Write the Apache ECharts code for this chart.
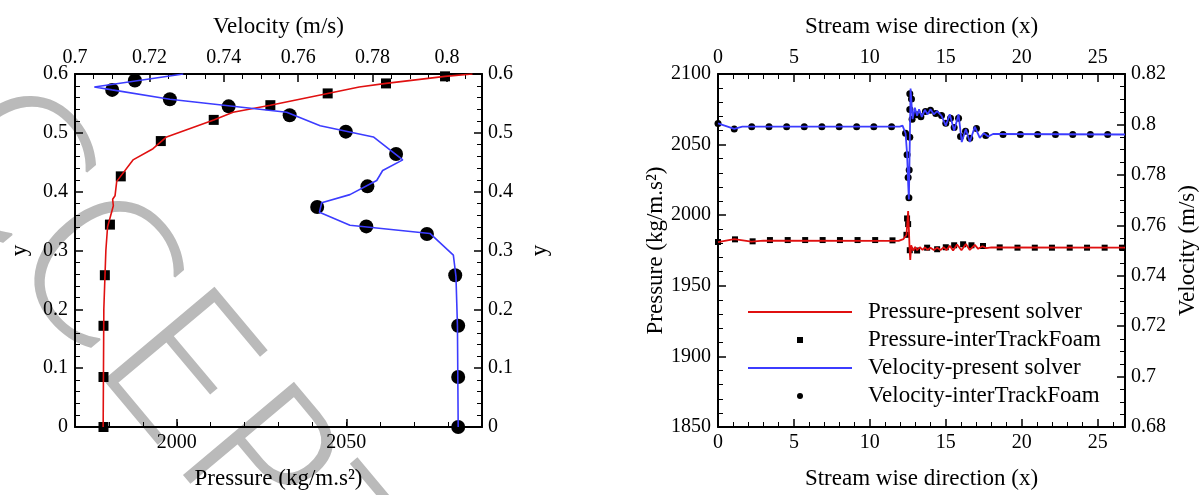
<!DOCTYPE html>
<html>
<head>
<meta charset="utf-8">
<script src="https://cdn.jsdelivr.net/npm/echarts@6/dist/echarts.min.js"></script>
<style>
  html, body { margin: 0; padding: 0; background: #fff; }
  #chart { width: 1201px; height: 495px; }
</style>
</head>
<body>
<div id="chart"></div>
<script>
  // ---- left panel: vertical profiles (y against pressure / velocity) ----
  const profPresY = [0, 0.1, 0.2, 0.3, 0.34, 0.376, 0.387, 0.393, 0.4175, 0.454, 0.473, 0.493, 0.522, 0.535, 0.547, 0.567, 0.578, 0.584, 0.596, 0.6]
  const profPres = [1978.3, 1978.4, 1978.5, 1979.1, 1979.6, 1981.3, 1981.1, 1981.8, 1982.3, 1987.1, 1993.0, 1997.0, 2010.9, 2016.6, 2027.6, 2044.5, 2053.8, 2061.7, 2079.1, 2087.2]
  const profPresRefY = [0, 0.085, 0.172, 0.258, 0.344, 0.426, 0.486, 0.522, 0.547, 0.567, 0.584, 0.596]
  const profPresRef = [1978.4, 1978.4, 1978.4, 1978.8, 1980.3, 1983.5, 1995.3, 2010.9, 2027.6, 2044.5, 2061.7, 2079.1]
  const profVelY = [0, 0.172, 0.256, 0.292, 0.329, 0.343, 0.365, 0.381, 0.395, 0.419, 0.436, 0.454, 0.493, 0.512, 0.535, 0.557, 0.573, 0.578, 0.6]
  const profVel = [0.8030, 0.8028, 0.8024, 0.8017, 0.7954, 0.7739, 0.7657, 0.7663, 0.7739, 0.7811, 0.7827, 0.7881, 0.7802, 0.7659, 0.7569, 0.7255, 0.7100, 0.7052, 0.7291]
  const profVelRefY = [0, 0.085, 0.172, 0.258, 0.328, 0.341, 0.374, 0.409, 0.464, 0.502, 0.530, 0.545, 0.557, 0.573, 0.589]
  const profVelRef = [0.8030, 0.8030, 0.8030, 0.8022, 0.7946, 0.7783, 0.7651, 0.7786, 0.7863, 0.7728, 0.7577, 0.7413, 0.7255, 0.7100, 0.7161]

  // ---- right panel: along the stream wise direction ----
  const presLineX = [0, 1.07, 2.2, 3.0, 11.9, 12.2, 12.41, 12.47, 12.52, 12.57, 12.62, 12.66, 12.72, 12.85, 12.98, 13.11, 13.29, 13.47, 13.62, 13.8, 13.99, 14.21, 14.43, 14.65, 14.87, 15.04, 15.26, 15.48, 15.74, 16.03, 16.32, 16.58, 16.91, 17.13, 17.41, 17.67, 18.0, 26.8]
  const presLine = [1981.0, 1983.0, 1981.3, 1982.0, 1981.8, 1983.0, 1986.0, 1995.0, 2003.0, 1990.0, 1975.0, 1968.3, 1978.7, 1975.0, 1977.5, 1975.2, 1977.3, 1975.4, 1977.2, 1975.5, 1977.0, 1975.4, 1977.0, 1975.3, 1977.3, 1975.3, 1978.3, 1975.0, 1979.3, 1975.2, 1979.6, 1975.4, 1979.0, 1976.2, 1978.0, 1976.7, 1977.2, 1977.0]
  const presRefX = [0, 1.12, 2.28, 3.42, 4.59, 5.74, 6.89, 8.03, 9.19, 10.35, 11.49, 12.41, 12.45, 12.52, 12.63, 13.11, 13.77, 14.43, 15.0, 15.55, 16.14, 16.69, 17.45, 18.55, 19.72, 20.86, 21.99, 23.16, 24.3, 25.46, 26.6]
  const presRef = [1981.0, 1982.9, 1981.5, 1982.4, 1982.4, 1982.4, 1982.4, 1982.4, 1982.4, 1982.4, 1982.2, 1986.1, 1997.7, 1993.7, 1975.2, 1975.0, 1977.0, 1975.9, 1977.3, 1978.7, 1979.4, 1978.7, 1978.2, 1977.2, 1977.0, 1977.0, 1977.0, 1977.0, 1977.0, 1977.0, 1977.0]
  const velLineX = [0, 1.07, 1.6, 11.97, 12.15, 12.35, 12.45, 12.52, 12.57, 12.63, 12.68, 12.81, 12.96, 13.11, 13.24, 13.42, 13.62, 13.8, 13.99, 14.21, 14.43, 14.72, 15.0, 15.26, 15.55, 15.84, 16.05, 16.32, 16.58, 16.91, 17.24, 17.5, 17.79, 18.11, 26.8]
  const velLine = [0.8004, 0.7982, 0.7991, 0.7991, 0.7995, 0.7965, 0.7884, 0.7767, 0.7702, 0.7936, 0.8142, 0.8021, 0.8066, 0.8034, 0.8060, 0.8030, 0.8058, 0.8040, 0.8060, 0.8040, 0.8053, 0.8034, 0.7995, 0.8040, 0.7975, 0.8040, 0.7930, 0.7982, 0.7930, 0.7991, 0.7947, 0.7965, 0.7952, 0.7962, 0.7960]
  const velRefX = [0, 1.07, 2.22, 3.36, 4.52, 5.68, 6.84, 7.98, 9.13, 10.26, 11.43, 12.35, 12.63, 12.45, 12.59, 12.52, 12.57, 12.63, 12.74, 12.63, 12.78, 13.07, 13.36, 13.66, 13.99, 14.34, 14.72, 15.0, 15.31, 15.55, 15.84, 15.97, 16.3, 16.58, 17.02, 17.63, 18.77, 19.91, 21.05, 22.22, 23.36, 24.52, 25.66]
  const velRef = [0.8004, 0.7982, 0.7991, 0.7991, 0.7991, 0.7991, 0.7991, 0.7991, 0.7991, 0.7991, 0.7991, 0.7965, 0.7949, 0.7880, 0.7819, 0.7790, 0.7709, 0.8122, 0.8101, 0.8059, 0.8021, 0.8038, 0.8030, 0.8051, 0.8056, 0.8043, 0.8035, 0.8005, 0.8025, 0.7988, 0.8025, 0.7952, 0.7973, 0.7945, 0.7984, 0.7956, 0.7960, 0.7960, 0.7960, 0.7960, 0.7960, 0.7960, 0.7960]

  const legendNames = ['Pressure-present solver', 'Pressure-interTrackFoam', 'Velocity-present solver', 'Velocity-interTrackFoam']
  const pressureMajor = [2000, 2050]

  const RED = '#e01010'
  const BLUE = '#3c3cff'
  const FONT = '"Liberation Serif", "Times New Roman", serif'

  function pairs (a, b) {
    return a.map(function (v, i) { return [v, b[i]] })
  }
  function plain (v) { return String(v) }

  // Tecplot-like frame axis: ticks point inside, black frame
  function frameAxis (extra) {
    var base = {
      type: 'value',
      axisLine: { show: true, onZero: false, lineStyle: { color: '#000', width: 2 } },
      axisTick: { show: true, inside: true, length: 8, lineStyle: { color: '#000', width: 1.5 } },
      minorTick: { show: true, length: 5, lineStyle: { color: '#000', width: 1 } },
      splitLine: { show: false },
      axisLabel: { color: '#000', fontFamily: FONT, fontSize: 20, margin: 6, showMaxLabel: false, formatter: plain },
      nameTextStyle: { color: '#000', fontFamily: FONT, fontSize: 23 },
      nameLocation: 'middle'
    }
    return Object.assign(base, extra)
  }
  function minor (n) {
    return { show: true, splitNumber: n, length: 5, lineStyle: { color: '#000', width: 1 } }
  }
  function labels (margin) {
    return { color: '#000', fontFamily: FONT, fontSize: 20, margin: margin, formatter: plain }
  }

  var chart = echarts.init(document.getElementById('chart'))
  chart.setOption({
    animation: false,
    grid: [
      { left: 75, top: 74, width: 407, height: 359 },
      { left: 718, top: 74, width: 407, height: 359 }
    ],
    xAxis: [
      frameAxis({ gridIndex: 0, position: 'bottom', min: 1970, max: 2090, interval: 10,
        name: 'Pressure (kg/m.s²)', nameGap: 40,
        axisTick: { show: true, inside: true, length: 5, lineStyle: { color: '#000', width: 1 } },
        minorTick: { show: false },
        axisLabel: { color: '#000', fontFamily: FONT, fontSize: 20, margin: 6,
          formatter: function (v) { return v % 50 === 0 ? String(v) : '' } } }),
      frameAxis({ gridIndex: 0, position: 'bottom', min: 1970, max: 2090,
        axisLine: { show: false }, minorTick: { show: false },
        axisLabel: { show: false },
        axisTick: { show: true, inside: true, length: 8, customValues: pressureMajor, lineStyle: { color: '#000', width: 1.5 } } }),
      frameAxis({ gridIndex: 0, position: 'top', min: 0.7, max: 0.8094, interval: 0.02,
        minorTick: minor(4), name: 'Velocity (m/s)', nameGap: 36 }),
      frameAxis({ gridIndex: 1, position: 'bottom', min: 0, max: 26.8, interval: 5,
        minorTick: minor(5), name: 'Stream wise direction (x)', nameGap: 40 }),
      frameAxis({ gridIndex: 1, position: 'top', min: 0, max: 26.8, interval: 5,
        minorTick: minor(5), name: 'Stream wise direction (x)', nameGap: 36 })
    ],
    yAxis: [
      frameAxis({ gridIndex: 0, position: 'left', min: 0, max: 0.6, interval: 0.1,
        minorTick: minor(5), axisLabel: labels(7), name: 'y', nameRotate: 90, nameGap: 44 }),
      frameAxis({ gridIndex: 0, position: 'right', min: 0, max: 0.6, interval: 0.1,
        minorTick: minor(5), axisLabel: labels(6), name: 'y', nameRotate: 90, nameGap: 46 }),
      frameAxis({ gridIndex: 1, position: 'left', min: 1850, max: 2100, interval: 50,
        minorTick: minor(5), axisLabel: labels(7), name: 'Pressure (kg/m.s²)', nameRotate: 90, nameGap: 51 }),
      frameAxis({ gridIndex: 1, position: 'right', min: 0.68, max: 0.82, interval: 0.02,
        minorTick: minor(4), axisLabel: labels(6), name: 'Velocity (m/s)', nameRotate: 90, nameGap: 51 })
    ],
    legend: {
      orient: 'vertical',
      left: 743,
      top: 293,
      itemWidth: 104,
      itemHeight: 6,
      itemGap: 0,
      selectedMode: false,
      symbolKeepAspect: true,
      data: [
        { name: legendNames[0], icon: 'path://M0,0H52V1H0Z' },
        { name: legendNames[1], icon: 'path://M0,0H1V1H0Z' },
        { name: legendNames[2], icon: 'path://M0,0H52V1H0Z' },
        { name: legendNames[3], icon: 'circle' }
      ],
      textStyle: { color: '#000', fontFamily: FONT, fontSize: 23, lineHeight: 28, padding: [0, 0, 0, 11] }
    },
    // faint "ACCEPTED" stamp behind the left panel
    graphic: [{
      type: 'text',
      x: 203,
      y: 418,
      rotation: -0.873,
      z: -10,
      silent: true,
      style: {
        text: 'ACCEPTED',
        fontFamily: '"DejaVu Sans"',
        fontWeight: 200,
        fontSize: 196,
        fill: '#bababa',
        stroke: '#bababa',
        lineWidth: 2,
        align: 'center',
        verticalAlign: 'middle'
      }
    }],
    series: [
      { name: 'profile pressure', type: 'line', xAxisIndex: 0, yAxisIndex: 0, symbol: 'none',
        lineStyle: { color: RED, width: 1.6 }, itemStyle: { color: RED }, data: pairs(profPres, profPresY) },
      { name: 'profile velocity', type: 'line', xAxisIndex: 2, yAxisIndex: 0, symbol: 'none',
        lineStyle: { color: BLUE, width: 1.6 }, itemStyle: { color: BLUE }, data: pairs(profVel, profVelY) },
      { name: 'profile pressure ref', type: 'scatter', xAxisIndex: 0, yAxisIndex: 0, symbol: 'rect', symbolSize: 10,
        itemStyle: { color: '#000', opacity: 1 }, data: pairs(profPresRef, profPresRefY) },
      { name: 'profile velocity ref', type: 'scatter', xAxisIndex: 2, yAxisIndex: 0, symbol: 'circle', symbolSize: 14,
        itemStyle: { color: '#000', opacity: 1 }, data: pairs(profVelRef, profVelRefY) },

      { name: legendNames[0], type: 'line', xAxisIndex: 3, yAxisIndex: 2, symbol: 'none',
        lineStyle: { color: RED, width: 1.8 }, itemStyle: { color: RED }, data: pairs(presLineX, presLine) },
      { name: legendNames[2], type: 'line', xAxisIndex: 3, yAxisIndex: 3, symbol: 'none',
        lineStyle: { color: BLUE, width: 1.8 }, itemStyle: { color: BLUE }, data: pairs(velLineX, velLine) },
      { name: legendNames[1], type: 'scatter', xAxisIndex: 3, yAxisIndex: 2, symbol: 'rect', symbolSize: 6,
        itemStyle: { color: '#000', opacity: 1 }, data: pairs(presRefX, presRef) },
      { name: legendNames[3], type: 'scatter', xAxisIndex: 3, yAxisIndex: 3, symbol: 'circle', symbolSize: 7,
        itemStyle: { color: '#000', opacity: 1 }, data: pairs(velRefX, velRef) }
    ]
  })
</script>
</body>
</html>
